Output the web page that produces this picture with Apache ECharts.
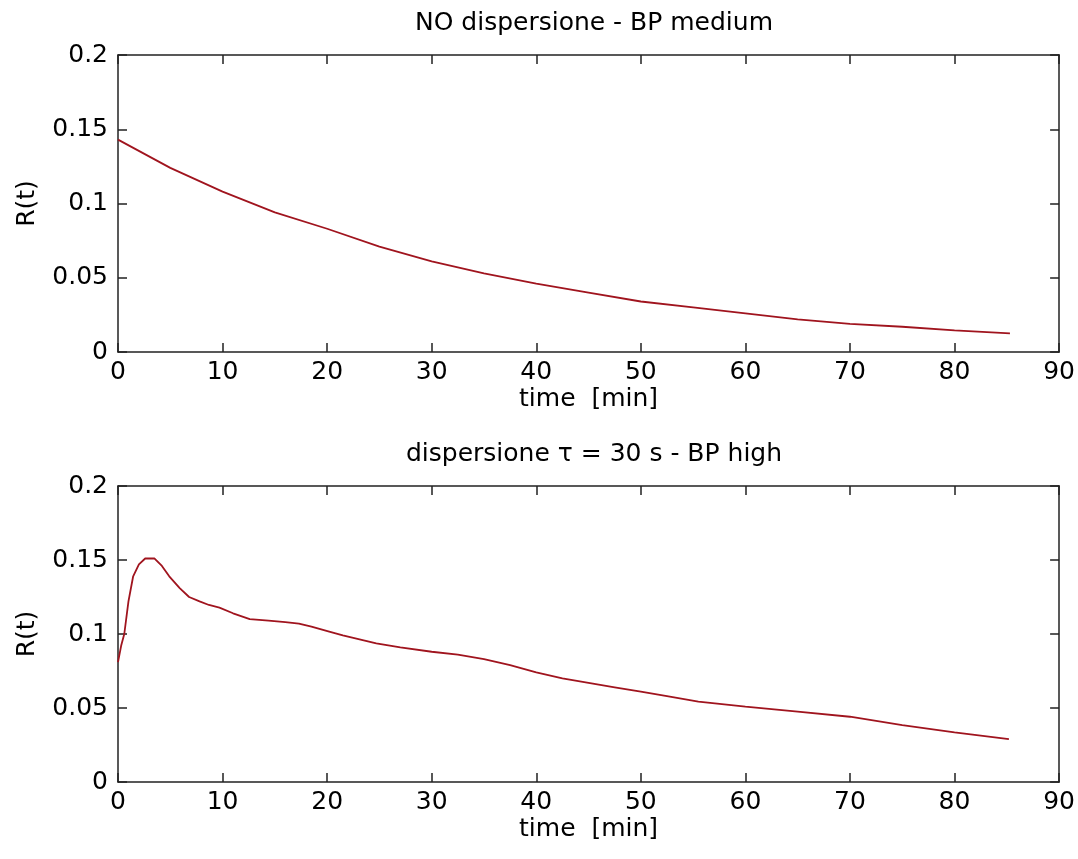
<!DOCTYPE html>
<html>
<head>
<meta charset="utf-8">
<script src="https://cdn.jsdelivr.net/npm/echarts@6/dist/echarts.min.js"></script>
<style>html,body{margin:0;padding:0;background:#fff}#c{width:1078px;height:859px}</style>
</head>
<body>
<div id="c"></div>
<script>
// Data
var xTicks = [0, 10, 20, 30, 40, 50, 60, 70, 80, 90];
var yTicks = [0, 0.05, 0.1, 0.15, 0.2];
var topTitle = 'NO dispersione - BP medium';
var botTitle = 'dispersione \u03C4 = 30 s - BP high';
var xName = 'time  [min]';
var yName = 'R(t)';

var topT = [0, 5, 10, 15, 20, 25, 30, 35, 40, 45, 50, 55, 60, 65, 70, 75, 80, 85.3];
var topR = [0.143, 0.124, 0.108, 0.094, 0.083, 0.071, 0.061, 0.053, 0.046, 0.040, 0.034, 0.030, 0.026, 0.022, 0.019, 0.017, 0.0145, 0.0125];

var botT = [0, 0.3, 0.6, 1.0, 1.45, 2.0, 2.6, 3.5, 4.2, 4.9, 5.9, 6.8, 7.8, 8.7, 9.7, 11, 12.6, 14.4, 16, 17.3, 18.5, 20.2, 21.5, 23.1, 24.7, 27, 30, 32.5, 35, 37.5, 40, 42.5, 45, 47.5, 50, 52.5, 55.5, 60, 65, 70, 75, 80, 85.2];
var botR = [0.081, 0.092, 0.100, 0.122, 0.139, 0.147, 0.151, 0.151, 0.146, 0.139, 0.131, 0.125, 0.122, 0.1196, 0.1178, 0.114, 0.110, 0.109, 0.108, 0.107, 0.105, 0.1016, 0.099, 0.0964, 0.0937, 0.091, 0.088, 0.086, 0.083, 0.079, 0.074, 0.070, 0.067, 0.064, 0.061, 0.058, 0.0543, 0.0509, 0.0475, 0.0441, 0.0385, 0.0336, 0.029];

function pairs(t, r) { return t.map(function (v, i) { return [v, r[i]]; }); }

var FONT = 'DejaVu Sans';
var FS = 25;
var lineCol = '#222';
var xMin = xTicks[0], xMax = xTicks[xTicks.length - 1];
var xInt = xTicks[1] - xTicks[0];
var yMin = yTicks[0], yMax = yTicks[yTicks.length - 1];
var yInt = yTicks[1] - yTicks[0];

var axLine = { show: true, onZero: false, lineStyle: { color: lineCol, width: 1.5 } };
var axTick = { show: true, inside: true, length: 9, lineStyle: { color: lineCol, width: 1.5 } };

function xAxes(gi) {
  return [{
    type: 'value', gridIndex: gi, position: 'bottom', min: xMin, max: xMax, interval: xInt,
    axisLine: axLine, axisTick: axTick,
    axisLabel: { show: true, margin: 8, color: '#000', fontFamily: FONT, fontSize: FS },
    splitLine: { show: false },
    name: xName, nameLocation: 'middle', nameGap: 35,
    nameTextStyle: { color: '#000', fontFamily: FONT, fontSize: FS }
  }, {
    type: 'value', gridIndex: gi, position: 'top', min: xMin, max: xMax, interval: xInt,
    axisLine: axLine, axisTick: axTick,
    axisLabel: { show: false }, splitLine: { show: false }
  }];
}
function yAxes(gi) {
  return [{
    type: 'value', gridIndex: gi, position: 'left', min: yMin, max: yMax, interval: yInt,
    axisLine: axLine, axisTick: axTick,
    axisLabel: { show: true, margin: 10, color: '#000', fontFamily: FONT, fontSize: FS },
    splitLine: { show: false },
    name: yName, nameLocation: 'middle', nameGap: 78, nameRotate: 90,
    nameTextStyle: { color: '#000', fontFamily: FONT, fontSize: FS }
  }, {
    type: 'value', gridIndex: gi, position: 'right', min: yMin, max: yMax, interval: yInt,
    axisLine: axLine, axisTick: axTick,
    axisLabel: { show: false }, splitLine: { show: false }
  }];
}

var chart = echarts.init(document.getElementById('c'), null, { renderer: 'canvas' });
chart.setOption({
  backgroundColor: '#fff',
  animation: false,
  title: [
    { text: topTitle, left: 589, top: 6, textAlign: 'center',
      textStyle: { fontFamily: FONT, fontSize: FS, fontWeight: 'normal', color: '#000' } },
    { text: botTitle, left: 589, top: 437, textAlign: 'center',
      textStyle: { fontFamily: FONT, fontSize: FS, fontWeight: 'normal', color: '#000' } }
  ],
  grid: [
    { left: 118, top: 55, width: 942, height: 297, containLabel: false },
    { left: 118, top: 486, width: 942, height: 296, containLabel: false }
  ],
  xAxis: xAxes(0).concat(xAxes(1)),
  yAxis: yAxes(0).concat(yAxes(1)),
  series: [
    { type: 'line', xAxisIndex: 0, yAxisIndex: 0, data: pairs(topT, topR), showSymbol: false,
      lineStyle: { color: '#a0141e', width: 1.8 }, itemStyle: { color: '#a0141e' } },
    { type: 'line', xAxisIndex: 2, yAxisIndex: 2, data: pairs(botT, botR), showSymbol: false,
      lineStyle: { color: '#a0141e', width: 1.8 }, itemStyle: { color: '#a0141e' } }
  ]
});
</script>
</body>
</html>
